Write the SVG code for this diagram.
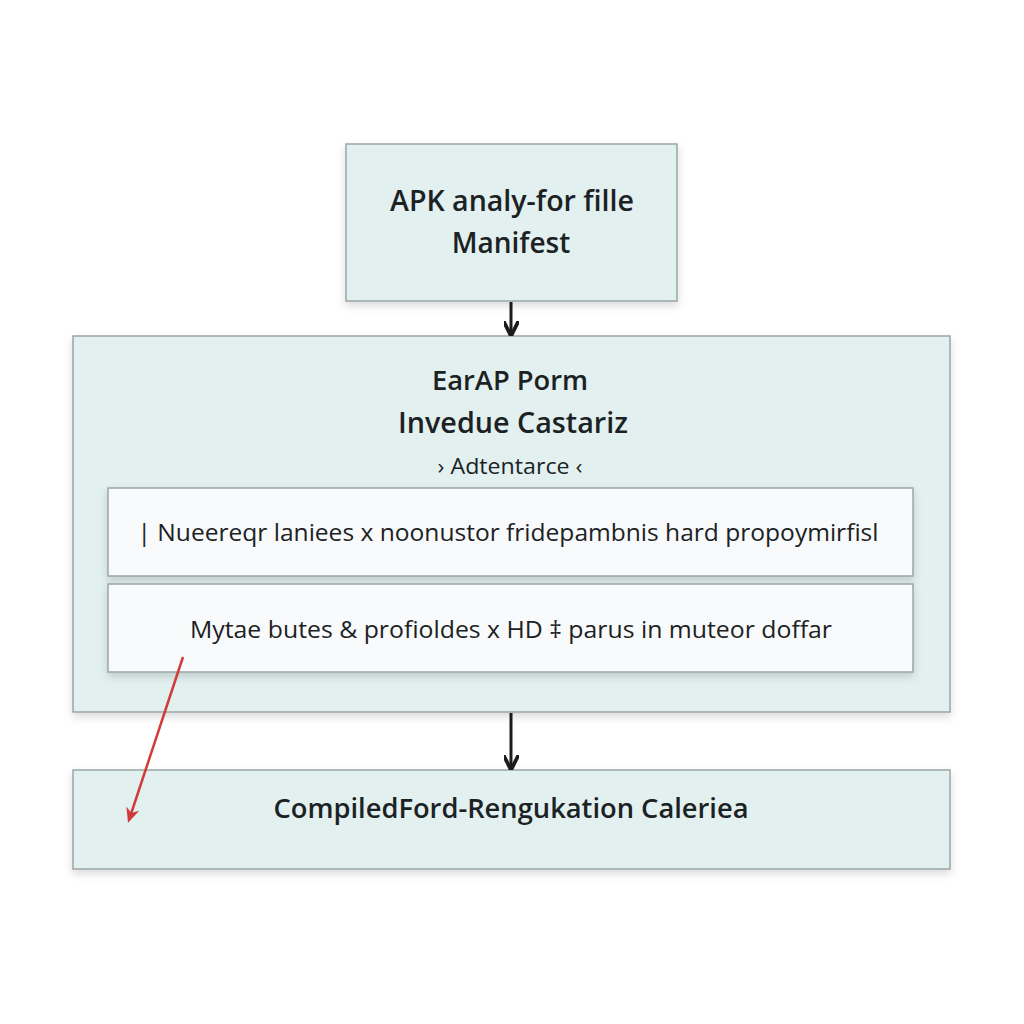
<svg xmlns="http://www.w3.org/2000/svg" width="1024" height="1024" viewBox="0 0 1024 1024">
<defs>
<style>
.box{fill:#e2f0f0;stroke:#9aa6a6;stroke-width:1.5}
.inner{fill:#f8fafb;stroke:#9aa6a6;stroke-width:1.5}
.t{font-family:"Open Sans","Noto Sans",sans-serif;font-weight:600;fill:#1c2224;text-anchor:middle}
.r{font-weight:500}
.conn{stroke:#1c1c1c;stroke-width:3;fill:none}
</style>
<filter id="sh" x="-10%" y="-10%" width="120%" height="130%">
<feDropShadow dx="0" dy="4" stdDeviation="4" flood-color="#000" flood-opacity="0.15"/>
</filter>
<marker id="ah" viewBox="0 0 10 10" refX="8" refY="5" markerWidth="5" markerHeight="5" orient="auto">
<path d="M0,0 L10,5 L0,10" fill="none" stroke="#1c1c1c" stroke-width="2.5"/>
</marker>
<marker id="ahr" viewBox="0 0 10 10" refX="8" refY="5" markerWidth="6" markerHeight="6" orient="auto">
<path d="M0,0.5 L10,5 L0,9.5 L3,5 Z" fill="#d03a3a"/>
</marker>
</defs>
<rect width="1024" height="1024" fill="#ffffff"/>
<g id="node-apk">
<rect class="box" x="346" y="144" width="331" height="157" filter="url(#sh)"/>
<text class="t" x="512" y="211" font-size="28" textLength="244" lengthAdjust="spacingAndGlyphs">APK analy-for fille</text>
<text class="t" x="511" y="253" font-size="28">Manifest</text>
</g>
<g id="node-earap">
<rect class="box" x="73" y="336" width="877" height="376" filter="url(#sh)"/>
<text class="t" x="510" y="390" font-size="27" textLength="156" lengthAdjust="spacingAndGlyphs">EarAP Porm</text>
<text class="t" x="513" y="433" font-size="28" textLength="230" lengthAdjust="spacingAndGlyphs">Invedue Castariz</text>
<text class="t r" x="510" y="474" font-size="21" textLength="145" lengthAdjust="spacingAndGlyphs">› Adtentarce ‹</text>
</g>
<g id="node-row1">
<rect class="inner" x="108" y="488" width="805" height="88" filter="url(#sh)"/>
<text class="t r" x="508" y="541" font-size="24" textLength="741" lengthAdjust="spacingAndGlyphs">| Nueereqr laniees x noonustor fridepambnis hard propoymirfisl</text>
</g>
<g id="node-row2">
<rect class="inner" x="108" y="584" width="805" height="88" filter="url(#sh)"/>
<text class="t r" x="511" y="638" font-size="24" textLength="642" lengthAdjust="spacingAndGlyphs">Mytae butes &amp; profioldes x HD ‡ parus in muteor doffar</text>
</g>
<g id="node-compiled">
<rect class="box" x="73" y="770" width="877" height="99" filter="url(#sh)"/>
<text class="t" x="511" y="818" font-size="27" textLength="475" lengthAdjust="spacingAndGlyphs">CompiledFord-Rengukation Caleriea</text>
</g>
<g id="connectors">
<line class="conn" x1="511" y1="302" x2="511" y2="333" marker-end="url(#ah)"/>
<line class="conn" x1="511" y1="713" x2="511" y2="767" marker-end="url(#ah)"/>
<line x1="183" y1="657" x2="129" y2="820" stroke="#d03a3a" stroke-width="2.5" marker-end="url(#ahr)"/>
</g>
</svg>
